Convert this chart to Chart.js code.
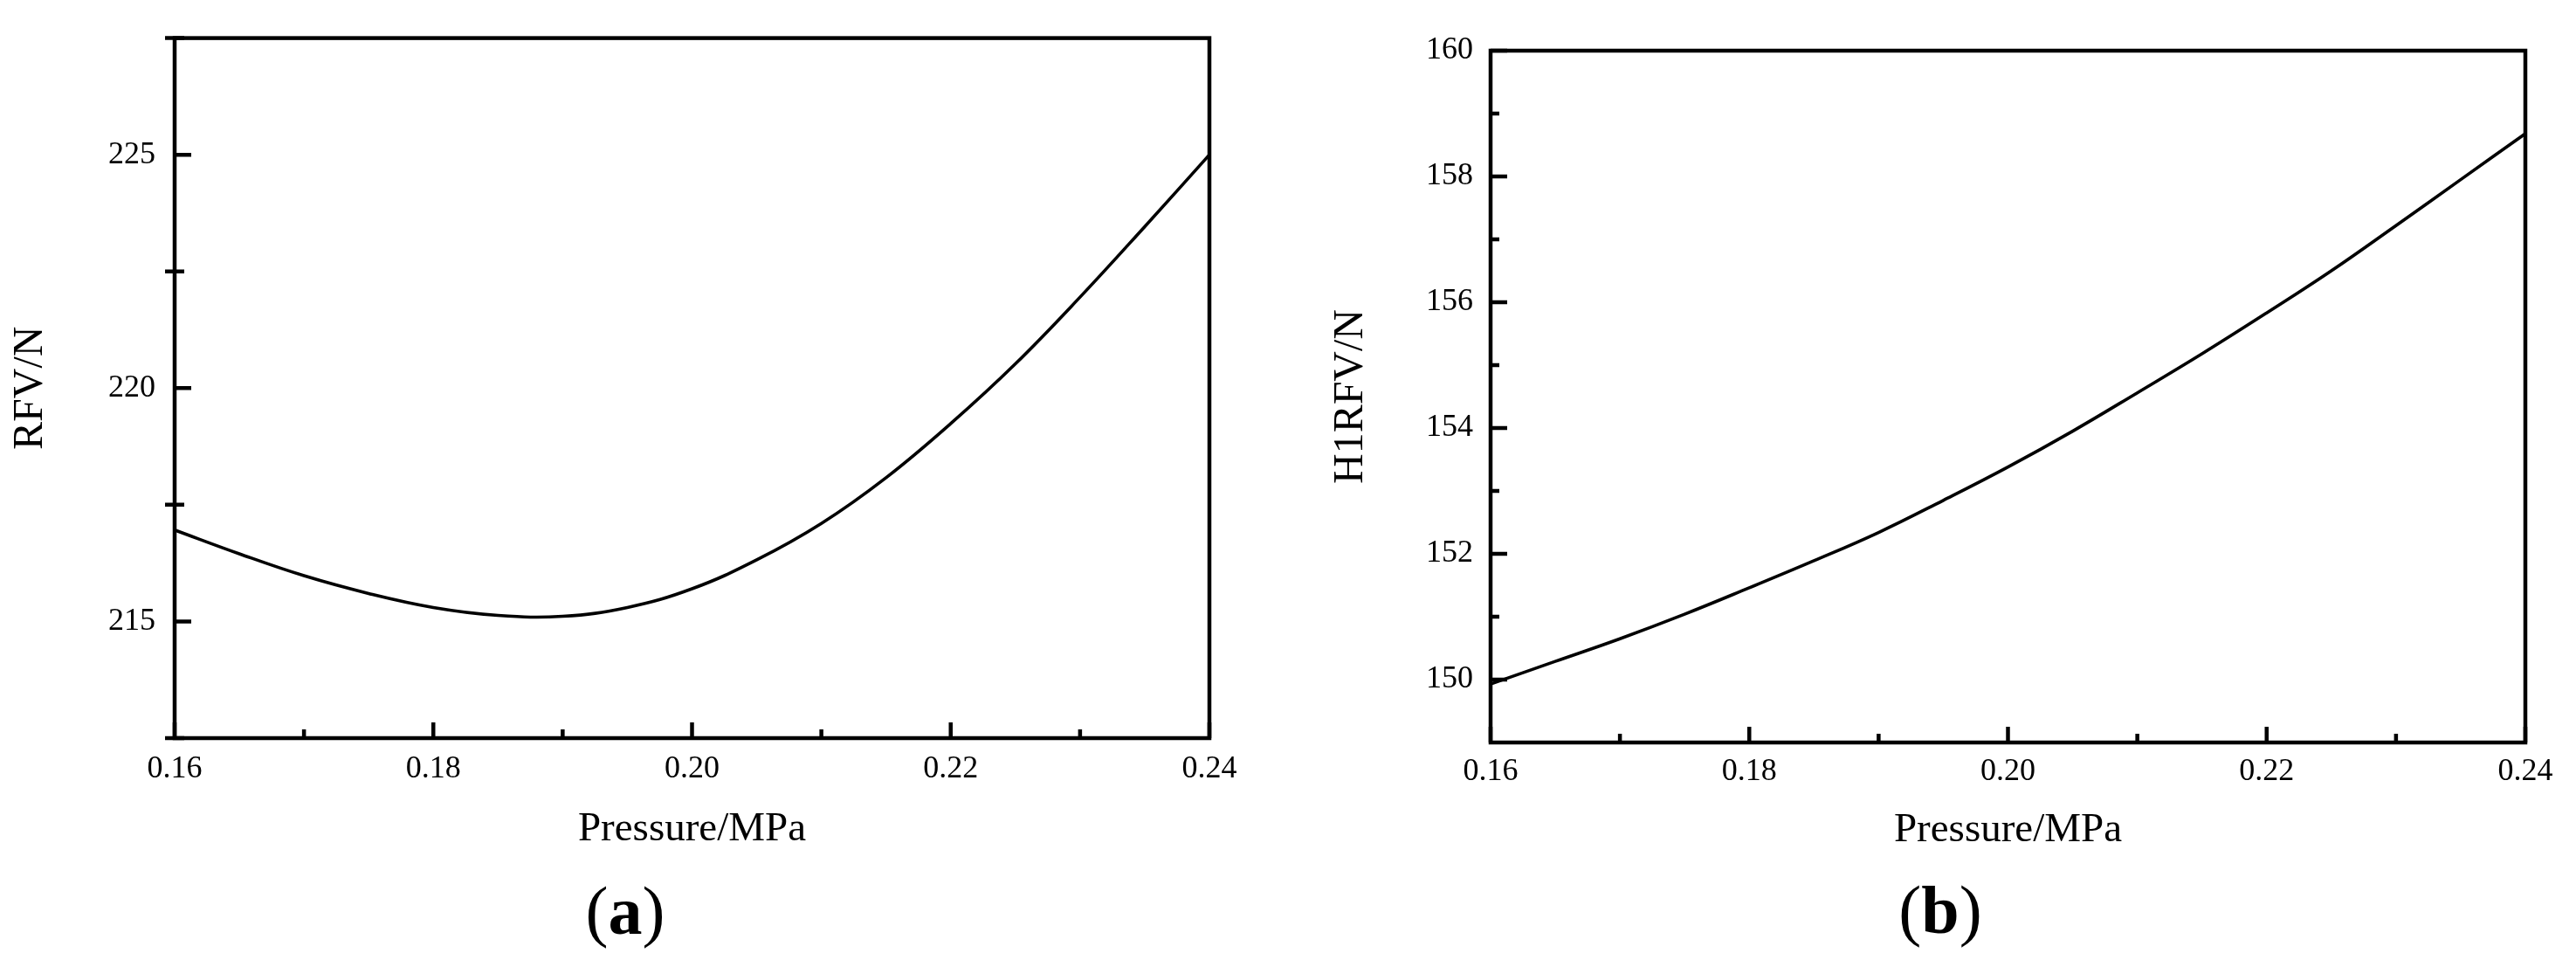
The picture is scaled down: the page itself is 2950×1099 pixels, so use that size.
<!DOCTYPE html>
<html>
<head>
<meta charset="utf-8">
<script src="https://cdn.jsdelivr.net/npm/chart.js@4.4.1/dist/chart.umd.min.js"></script>
<style>
html,body{margin:0;padding:0;background:#fff;width:2950px;height:1099px;overflow:hidden;}
canvas{position:absolute;top:0;}
#ca{left:0;}
#cb{left:1480px;}
.lab{position:absolute;font-family:'Liberation Serif',serif;font-size:78px;line-height:1;color:#000;transform:translate(-50%,-50%);white-space:nowrap;}
.lab b{font-weight:bold;}
</style>
</head>
<body>
<canvas id="ca" width="1480" height="1099"></canvas>
<canvas id="cb" width="1470" height="1099"></canvas>
<div class="lab" style="left:716px;top:1043px;">(<b>a</b>)</div>
<div class="lab" style="left:2222px;top:1042px;">(<b>b</b>)</div>
<script>
// ---- data ----
const pressure = [0.160,0.165,0.170,0.175,0.180,0.185,0.190,0.195,0.200,0.205,0.210,0.215,0.220,0.225,0.230,0.235,0.240];
const rfv      = [216.96,216.45,215.98,215.60,215.30,215.13,215.11,215.30,215.70,216.32,217.10,218.08,219.24,220.52,221.95,223.46,225.00];
const h1rfv    = [149.93,150.29,150.65,151.04,151.46,151.89,152.34,152.85,153.38,153.95,154.56,155.18,155.83,156.50,157.22,157.95,158.68];

const xTickValues = [0.16,0.18,0.20,0.22,0.24];
const xTickLabels = ['0.16','0.18','0.20','0.22','0.24'];
const xMinorTicks = [0.17,0.19,0.21,0.23];

const rfvTickValues = [215,220,225];
const rfvTickLabels = ['215','220','225'];
const rfvMinorTicks = [212.5,217.5,222.5,227.5];

const h1TickValues = [150,152,154,156,158,160];
const h1TickLabels = ['150','152','154','156','158','160'];
const h1MinorTicks = [151,153,155,157,159];

const xTitle = 'Pressure/MPa';
const rfvTitle = 'RFV/N';
const h1Title = 'H1RFV/N';

// ---- drawing ----
Chart.defaults.font.family = "'Liberation Serif', 'Times New Roman', serif";
Chart.defaults.color = '#000';

const frameTicks = {
  id: 'frameTicks',
  afterDatasetsDraw(chart, args, o) {
    const {ctx, chartArea: a, scales: {x, y}} = chart;
    ctx.save();
    ctx.strokeStyle = '#000';
    ctx.lineCap = 'butt';
    ctx.lineWidth = o.tickWidth;
    ctx.beginPath();
    o.xMajor.forEach(v => { const p = x.getPixelForValue(v); ctx.moveTo(p, a.bottom); ctx.lineTo(p, a.bottom - o.xMajorLen); });
    o.xMinor.forEach(v => { const p = x.getPixelForValue(v); ctx.moveTo(p, a.bottom); ctx.lineTo(p, a.bottom - o.xMinorLen); });
    o.yMajor.forEach(v => { const p = y.getPixelForValue(v); ctx.moveTo(a.left, p); ctx.lineTo(a.left + o.yMajorLen, p); });
    o.yMinor.forEach(v => { const p = y.getPixelForValue(v); ctx.moveTo(a.left - o.yMinorOut, p); ctx.lineTo(a.left + o.yMinorLen, p); });
    ctx.stroke();
    ctx.lineWidth = o.frameWidth;
    ctx.strokeRect(a.left, a.top, a.right - a.left, a.bottom - a.top);
    ctx.restore();
  }
};

function makeChart(id, values, yMin, yMax, yTicks, yLabels, yMinor, yTitle, g) {
  return new Chart(document.getElementById(id), {
    type: 'line',
    data: {
      datasets: [{
        data: pressure.map((p, i) => ({x: p, y: values[i]})),
        borderColor: '#000',
        borderWidth: 3.6,
        pointRadius: 0,
        fill: false,
        tension: 0.4
      }]
    },
    options: {
      responsive: false,
      animation: false,
      devicePixelRatio: 1,
      layout: { padding: { left: 0, top: g.top, right: g.right, bottom: 0 } },
      plugins: {
        legend: { display: false },
        tooltip: { enabled: false },
        frameTicks: {
          xMajor: xTickValues, xMinor: xMinorTicks,
          yMajor: yTicks, yMinor: yMinor,
          xMajorLen: 18, xMinorLen: 10, yMajorLen: 19, yMinorLen: g.yMinorIn, yMinorOut: g.yMinorOut,
          tickWidth: 4.5, frameWidth: 4.5
        }
      },
      scales: {
        x: {
          type: 'linear', min: 0.16, max: 0.24,
          grid: { display: false, drawTicks: false },
          border: { display: false },
          afterBuildTicks: s => { s.ticks = xTickValues.map(v => ({value: v})); },
          afterFit: s => { s.height = g.xH; },
          ticks: { autoSkip: false, maxRotation: 0, padding: g.xPad, font: { size: 36 },
                   callback: (v, i) => xTickLabels[i] },
          title: { display: true, text: xTitle, font: { size: 47 }, padding: { top: 0, bottom: g.xTitlePad } }
        },
        y: {
          type: 'linear', min: yMin, max: yMax,
          grid: { display: false, drawTicks: false },
          border: { display: false },
          afterBuildTicks: s => { s.ticks = yTicks.map(v => ({value: v})); },
          afterFit: s => { s.width = g.yW; },
          ticks: { autoSkip: false, padding: g.yPad, font: { size: 36 },
                   callback: (v, i) => yLabels[i] },
          title: { display: true, text: yTitle, font: { size: 48 }, padding: { top: g.yTitlePad, bottom: 0 } }
        }
      }
    },
    plugins: [frameTicks]
  });
}

makeChart('ca', rfv, 212.5, 227.5, rfvTickValues, rfvTickLabels, rfvMinorTicks, rfvTitle,
  { top: 34, right: 95, xH: 254, yW: 200, xPad: 14, yPad: 22, xTitlePad: 121, yTitlePad: 7, yMinorIn: 11, yMinorOut: 11 });
makeChart('cb', h1rfv, 149, 160, h1TickValues, h1TickLabels, h1MinorTicks, h1Title,
  { top: 58, right: 58, xH: 249, yW: 227, xPad: 12, yPad: 20, xTitlePad: 120, yTitlePad: 39, yMinorIn: 10, yMinorOut: 0 });
</script>
</body>
</html>
